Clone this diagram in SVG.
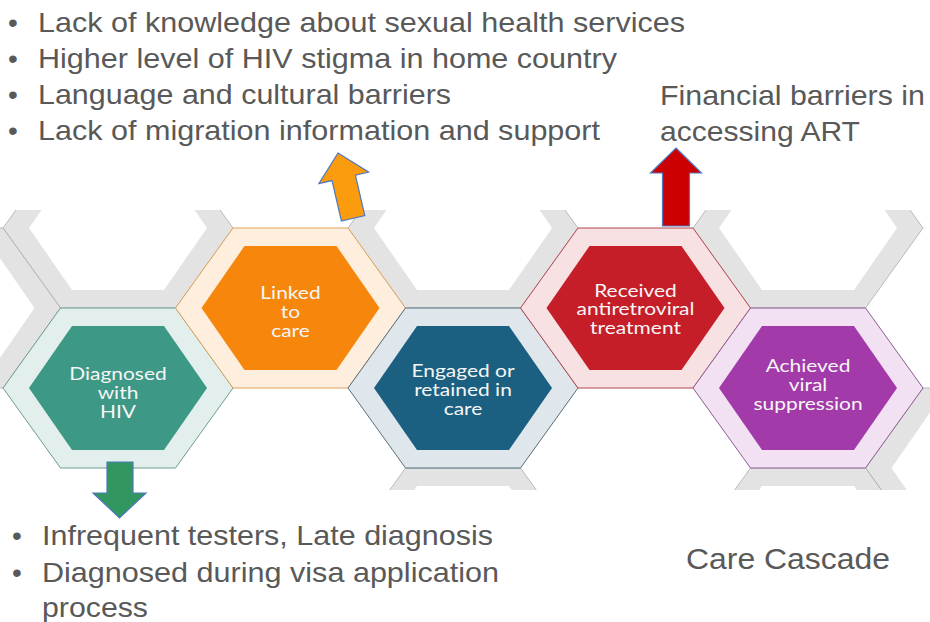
<svg xmlns="http://www.w3.org/2000/svg" xmlns:xlink="http://www.w3.org/1999/xlink" width="930" height="622" viewBox="0 0 930 622">
<style>
.t{font-family:"Liberation Sans",Arial,sans-serif;font-size:28px;fill:#595959}
.h{font-family:Lato,"Open Sans",sans-serif;font-size:16.5px;fill:#f6f6f6;text-anchor:middle}
.gr{fill:#e3e3e3;stroke:#a4a4a4;stroke-width:0.7}
.wh{fill:#ffffff}
.arr{stroke:#4f79be;stroke-width:1.2;stroke-linejoin:miter}
</style>
<defs>
<polygon id="ho" points="-115,0 -57.5,-80 57.5,-80 115,0 57.5,80 -57.5,80"/>
<polygon id="hi" points="-89,0 -46,-62 46,-62 89,0 46,62 -46,62"/>
<clipPath id="pic"><rect x="0" y="210" width="930" height="280"/></clipPath>
</defs>
<rect width="930" height="622" fill="#ffffff"/>

<g clip-path="url(#pic)">
<g id="background-hexes">
<use xlink:href="#ho" x="118" y="228" class="gr"/><use xlink:href="#hi" x="118" y="228" class="wh"/>
<use xlink:href="#ho" x="463" y="228" class="gr"/><use xlink:href="#hi" x="463" y="228" class="wh"/>
<use xlink:href="#ho" x="808" y="228" class="gr"/><use xlink:href="#hi" x="808" y="228" class="wh"/>
<use xlink:href="#ho" x="-54.5" y="308" class="gr"/><use xlink:href="#hi" x="-54.5" y="308" class="wh"/>
<use xlink:href="#ho" x="980.5" y="468" class="gr"/><use xlink:href="#hi" x="980.5" y="468" class="wh"/>
<use xlink:href="#ho" x="463" y="548" class="gr"/><use xlink:href="#hi" x="463" y="548" class="wh"/>
<use xlink:href="#ho" x="808" y="548" class="gr"/><use xlink:href="#hi" x="808" y="548" class="wh"/>
</g>

<g id="node-diagnosed">
<use xlink:href="#ho" x="118" y="388" fill="#e2efec" stroke="#6f9c93" stroke-width="1"/>
<use xlink:href="#hi" x="118" y="388" fill="#3d9886"/>
<g transform="translate(118 0) scale(1.27 1)">
<text class="h" x="0" y="380">Diagnosed</text>
<text class="h" x="0" y="399">with</text>
<text class="h" x="0" y="418">HIV</text>
</g>
</g>

<g id="node-linked">
<use xlink:href="#ho" x="290.5" y="308" fill="#fdeedd" stroke="#dfa35a" stroke-width="1"/>
<use xlink:href="#hi" x="290.5" y="308" fill="#f7860c"/>
<g transform="translate(290.5 0) scale(1.27 1)">
<text class="h" x="0" y="299">Linked</text>
<text class="h" x="0" y="318">to</text>
<text class="h" x="0" y="337">care</text>
</g>
</g>

<g id="node-engaged">
<use xlink:href="#ho" x="463" y="388" fill="#dfe7ec" stroke="#566f7c" stroke-width="1"/>
<use xlink:href="#hi" x="463" y="388" fill="#1b6080"/>
<g transform="translate(463 0) scale(1.27 1)">
<text class="h" x="0" y="377">Engaged or</text>
<text class="h" x="0" y="396">retained in</text>
<text class="h" x="0" y="415">care</text>
</g>
</g>

<g id="node-received">
<use xlink:href="#ho" x="635.5" y="308" fill="#f7e1e2" stroke="#b4464f" stroke-width="1"/>
<use xlink:href="#hi" x="635.5" y="308" fill="#c51e29"/>
<g transform="translate(635.5 0) scale(1.27 1)">
<text class="h" x="0" y="297">Received</text>
<text class="h" x="0" y="315.5">antiretroviral</text>
<text class="h" x="0" y="334">treatment</text>
</g>
</g>

<g id="node-achieved">
<use xlink:href="#ho" x="808" y="388" fill="#f1e1f2" stroke="#8d5d92" stroke-width="1"/>
<use xlink:href="#hi" x="808" y="388" fill="#a23aaa"/>
<g transform="translate(808 0) scale(1.27 1)">
<text class="h" x="0" y="372">Achieved</text>
<text class="h" x="0" y="391">viral</text>
<text class="h" x="0" y="410">suppression</text>
</g>
</g>
</g>

<g id="connectors">
<polygon class="arr" fill="#fb9b0e" points="0,0 25.5,25.5 12,25.5 12,67 -12,67 -12,25.5 -25.5,25.5" transform="translate(338 153) rotate(-13)"/>
<polygon class="arr" fill="#cc0000" points="676,148 701.5,173 689.5,173 689.5,226 662.5,226 662.5,173 650.5,173"/>
<polygon class="arr" fill="#31965f" points="107,462 133,462 133,493 146,493 119.5,518 93,493 107,493"/>
</g>

<g id="top-barriers">
<text class="t" x="8" y="32">•</text><text class="t" x="38" y="32" textLength="647" lengthAdjust="spacingAndGlyphs">Lack of knowledge about sexual health services</text>
<text class="t" x="8" y="68">•</text><text class="t" x="38" y="68" textLength="579" lengthAdjust="spacingAndGlyphs">Higher level of HIV stigma in home country</text>
<text class="t" x="8" y="104">•</text><text class="t" x="38" y="104" textLength="413" lengthAdjust="spacingAndGlyphs">Language and cultural barriers</text>
<text class="t" x="8" y="140">•</text><text class="t" x="38" y="140" textLength="562" lengthAdjust="spacingAndGlyphs">Lack of migration information and support</text>
</g>

<g id="financial-barriers">
<text class="t" x="660" y="104.5" textLength="265" lengthAdjust="spacingAndGlyphs">Financial barriers in</text>
<text class="t" x="660" y="140.5" textLength="200" lengthAdjust="spacingAndGlyphs">accessing ART</text>
</g>

<g id="bottom-barriers">
<text class="t" x="12" y="545">•</text><text class="t" x="42" y="545" textLength="451" lengthAdjust="spacingAndGlyphs">Infrequent testers, Late diagnosis</text>
<text class="t" x="12" y="582">•</text><text class="t" x="42" y="582" textLength="457" lengthAdjust="spacingAndGlyphs">Diagnosed during visa application</text>
<text class="t" x="42" y="617" textLength="106" lengthAdjust="spacingAndGlyphs">process</text>
</g>

<g id="title">
<text class="t" x="686" y="569" style="font-size:29px" textLength="204" lengthAdjust="spacingAndGlyphs">Care Cascade</text>
</g>
</svg>
